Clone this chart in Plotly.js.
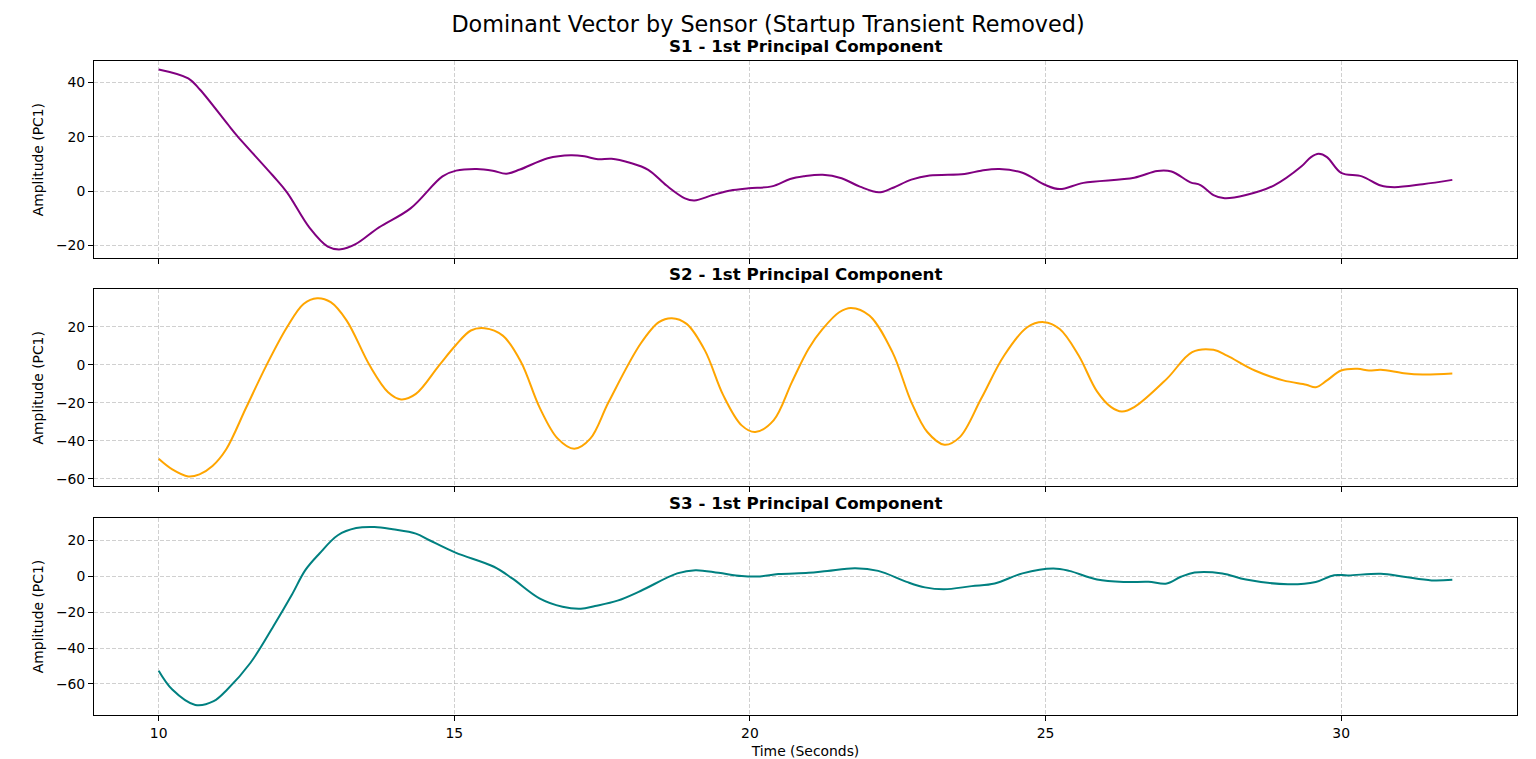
<!DOCTYPE html>
<html>
<head>
<meta charset="utf-8">
<script src="https://cdn.plot.ly/plotly-3.0.1.min.js"></script>
<style>html,body{margin:0;padding:0;background:#fff;}#chart{width:1536px;height:759px;}</style>
</head>
<body>
<div id="chart"></div>
<script>
// Sensor S1 - 1st principal component
const timeS1 = [10, 10.5, 10.70, 11.16, 11.32, 11.93, 12.17, 12.55, 12.86, 13.08, 13.33, 13.72, 14.26, 14.80, 15.03, 15.38, 15.65, 15.88, 16.11, 16.58, 16.97, 17.20, 17.43, 17.66, 17.97, 18.28, 18.59, 18.90, 19.06, 19.37, 19.67, 19.98, 20.37, 20.68, 20.91, 21.23, 21.55, 21.86, 22.18, 22.41, 22.73, 23.04, 23.63, 23.91, 24.22, 24.61, 25.0, 25.24, 25.64, 26.50, 26.89, 27.13, 27.45, 27.62, 27.84, 28.03, 28.39, 28.86, 29.33, 29.49, 29.62, 29.76, 30.0, 30.35, 30.67, 30.90, 31.38, 31.88];
const ampS1 = [44.8, 41.5, 37.3, 24.8, 20.5, 5.7, -0.5, -13.5, -20.5, -21.5, -19.6, -13.5, -6.4, 5.4, 7.5, 8.1, 7.5, 6.4, 7.9, 12.1, 13.2, 12.8, 11.7, 11.9, 10.4, 7.8, 2.0, -2.7, -3.5, -1.5, 0.2, 1.0, 1.7, 4.4, 5.4, 6.0, 4.7, 1.6, -0.5, 1.1, 4.2, 5.7, 6.3, 7.5, 8.1, 6.7, 2.2, 0.7, 3.0, 4.9, 7.4, 7.2, 3.2, 2.2, -1.5, -2.7, -1.5, 2.0, 9.1, 12.5, 13.7, 12.5, 6.7, 5.4, 2.0, 1.4, 2.5, 4.1];

// Sensor S2 - 1st principal component
const timeS2 = [10, 10.23, 10.50, 10.69, 10.91, 11.14, 11.48, 11.82, 12.17, 12.45, 12.68, 12.91, 13.18, 13.57, 13.88, 14.10, 14.35, 14.74, 15.02, 15.28, 15.51, 15.82, 16.13, 16.44, 16.75, 17.03, 17.30, 17.61, 18.15, 18.46, 18.68, 18.93, 19.24, 19.55, 19.86, 20.09, 20.40, 20.71, 20.99, 21.23, 21.51, 21.71, 22.02, 22.41, 22.73, 23.00, 23.29, 23.55, 23.91, 24.30, 24.69, 24.97, 25.24, 25.56, 25.87, 26.11, 26.29, 26.50, 27.05, 27.48, 27.84, 28.07, 28.54, 29.02, 29.41, 29.57, 29.76, 30.0, 30.28, 30.47, 30.67, 31.06, 31.38, 31.88];
const ampS2 = [-49.5, -55.1, -58.8, -57.7, -53.3, -44.6, -22.5, -0.4, 19.8, 32.1, 35.1, 33.0, 23.3, -0.4, -14.4, -18.2, -15.3, -0.4, 10.2, 18.1, 19.3, 15.4, 1.4, -22.3, -38.9, -44.2, -38.9, -19.6, 11.1, 22.5, 24.6, 21.6, 7.5, -16.1, -31.9, -35.4, -29.3, -9.1, 8.4, 18.9, 27.7, 30.0, 26.0, 6.7, -19.6, -35.4, -42.1, -38.1, -17.9, 4.9, 19.8, 22.5, 18.9, 4.9, -14.0, -22.3, -24.6, -22.3, -7.4, 6.7, 7.9, 4.9, -3.0, -8.2, -10.5, -11.8, -8.2, -3.0, -2.1, -3.0, -2.6, -4.4, -5.1, -4.6];

// Sensor S3 - 1st principal component
const timeS3 = [10, 10.23, 10.62, 10.93, 11.16, 11.55, 11.94, 12.25, 12.48, 12.72, 13.03, 13.34, 13.65, 13.96, 14.35, 14.58, 15.02, 15.67, 15.98, 16.44, 16.83, 17.14, 17.38, 17.76, 18.15, 18.77, 19.08, 19.47, 19.86, 20.17, 20.48, 20.99, 21.31, 21.78, 22.17, 22.65, 22.96, 23.28, 23.75, 24.14, 24.61, 25.13, 25.40, 25.87, 26.34, 26.74, 27.05, 27.29, 27.52, 27.99, 28.39, 29.10, 29.57, 29.88, 30.12, 30.67, 31.06, 31.53, 31.88];
const ampS3 = [-52.6, -63.1, -71.7, -69.6, -63.1, -48.3, -27.8, -10.4, 3.5, 12.8, 23.0, 27.0, 27.6, 26.3, 23.9, 20.2, 13.3, 5.4, -1.1, -12.2, -16.9, -18.0, -16.5, -13.5, -8.1, 1.7, 3.5, 2.0, 0.2, 0, 1.3, 2.0, 3.1, 4.6, 3.1, -3.0, -6.1, -7.2, -5.4, -3.9, 1.7, 4.4, 3.1, -1.7, -3.1, -3.0, -3.9, -0.2, 2.2, 1.7, -1.7, -4.4, -3.1, 0.7, 0.6, 1.5, -0.2, -2.2, -1.9];

const panelTitles = ["S1 - 1st Principal Component", "S2 - 1st Principal Component", "S3 - 1st Principal Component"];
const lineColors = ["#800080", "#FFA500", "#008080"];
const mainTitle = "Dominant Vector by Sensor (Startup Transient Removed)";
const xLabel = "Time (Seconds)";
const yLabel = "Amplitude (PC1)";

const FONT = "DejaVu Sans, sans-serif";
const series = [[timeS1, ampS1], [timeS2, ampS2], [timeS3, ampS3]];
const traces = series.map((s, i) => ({
  x: s[0], y: s[1], type: "scatter", mode: "lines",
  line: {color: lineColors[i], width: 2, shape: "spline", smoothing: 1.0},
  xaxis: i === 0 ? "x" : "x" + (i + 1),
  yaxis: i === 0 ? "y" : "y" + (i + 1),
  hoverinfo: "skip", showlegend: false
}));

const xr = [8.906, 32.974];
const yRanges = [[-24.8, 47.9], [-64.0, 39.8], [-77.3, 32.6]];
const domains = [[0.6983, 1.0], [0.3497, 0.6509], [0.0, 0.3012]];

const gridColor = "rgba(176,176,176,0.6)";
const TICK = 13.9;
function xAxis(showLabels, anchor) {
  return {
    range: xr, domain: [0, 1], anchor: anchor,
    tickvals: [10, 15, 20, 25, 30], showticklabels: showLabels,
    ticks: "outside", ticklen: 5, tickwidth: 1, tickcolor: "#000",
    showline: true, linecolor: "#000", linewidth: 1, mirror: true,
    showgrid: true, gridcolor: gridColor, griddash: "4px,2px", gridwidth: 1,
    zeroline: false, tickfont: {family: FONT, size: TICK, color: "#000"}
  };
}
function yAxis(i, anchor) {
  return {
    range: yRanges[i], domain: domains[i], anchor: anchor, dtick: 20,
    ticks: "outside", ticklen: 5, tickwidth: 1, tickcolor: "#000",
    showline: true, linecolor: "#000", linewidth: 1, mirror: true,
    showgrid: true, gridcolor: gridColor, griddash: "4px,2px", gridwidth: 1,
    zeroline: false, tickfont: {family: FONT, size: TICK, color: "#000"},
    title: {text: yLabel, font: {family: FONT, size: TICK, color: "#000"}, standoff: 9}
  };
}

const x3 = xAxis(true, "y3");
x3.title = {text: xLabel, font: {family: FONT, size: TICK, color: "#000"}, standoff: 7};

const layout = {
  width: 1536, height: 759,
  margin: {l: 94, r: 19, t: 61, b: 44},
  paper_bgcolor: "#fff", plot_bgcolor: "#fff",
  font: {family: FONT, color: "#000"},
  title: {text: mainTitle, x: 0.5, xanchor: "center", xref: "container",
          y: 1 - 24.5 / 759, yanchor: "middle", yref: "container",
          font: {family: FONT, size: 22.3, color: "#000"}},
  xaxis: xAxis(false, "y"),
  xaxis2: xAxis(false, "y2"),
  xaxis3: x3,
  yaxis: yAxis(0, "x"),
  yaxis2: yAxis(1, "x2"),
  yaxis3: yAxis(2, "x3"),
  annotations: panelTitles.map((t, i) => ({
    text: "<b>" + t + "</b>", xref: "paper", yref: "paper",
    x: 0.5, y: domains[i][1], xanchor: "center", yanchor: "middle",
    yshift: 15, showarrow: false,
    font: {family: FONT, size: 16.7, color: "#000"}
  }))
};

Plotly.newPlot("chart", traces, layout, {displayModeBar: false, staticPlot: true});
</script>
</body>
</html>
